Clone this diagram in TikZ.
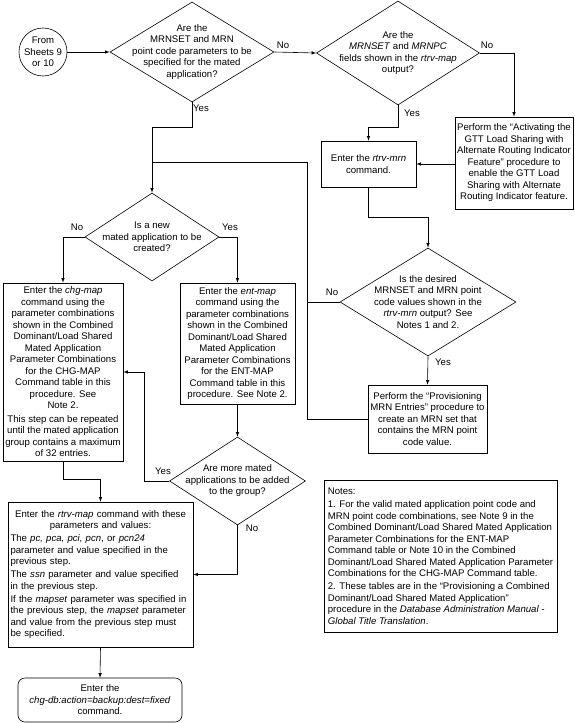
\documentclass[tikz,border=0pt]{standalone}
\usepackage{fontspec}
\setmainfont{Liberation Sans}
\usepackage{tikz}
\usetikzlibrary{shapes.geometric}
\usetikzlibrary{arrows}
\usetikzlibrary{positioning}
\usetikzlibrary{calc}
\newcommand{\flowfont}{\fontsize{9.6pt}{11.5pt}\selectfont}

\begin{document}
\begin{tikzpicture}[x=1pt,y=-1pt,
    every node/.style={font=\flowfont},
    proc/.style={draw,line width=0.6pt,align=center,inner sep=1pt},
    term/.style={proc,rounded corners=7pt},
    decision/.style={draw,diamond,line width=0.6pt,inner sep=0pt},
    dtext/.style={align=center,inner sep=0pt},
    lbl/.style={inner sep=0pt},
    flow/.style={line width=0.6pt},
    arr/.style={flow,-latex}]
    \useasboundingbox (0,0) rectangle (575,723);

    \node[draw,circle,line width=0.6pt,minimum size=46pt,inner sep=0pt,align=center] (start) at (43,52) {From\\Sheets 9\\or 10};

    \node[decision,minimum width=164pt,minimum height=100pt] (q1) at (192,52) {};
    \node[dtext] (q1t) at (q1) {Are the\\MRNSET and MRN\\point code parameters to be\\specified for the mated\\application?};

    \node[decision,minimum width=163pt,minimum height=104pt] (q2) at (398,53) {};
    \node[dtext] (q2t) at (q2) {Are the\\\textit{MRNSET} and \textit{MRNPC}\\fields shown in the \textit{rtrv-map}\\output?};

    \node[proc,minimum width=118pt,minimum height=92pt] (gtt) at (514,163) {Perform the “Activating the\\GTT Load Sharing with\\Alternate Routing Indicator\\Feature” procedure to\\enable the GTT Load\\Sharing with Alternate\\Routing Indicator feature.};

    \node[proc,minimum width=95pt,minimum height=46pt] (mrn) at (368.5,164) {Enter the \textit{rtrv-mrn}\\command.};

    \node[decision,minimum width=176pt,minimum height=108pt] (q3) at (428,302) {};
    \node[dtext] (q3t) at (q3) {Is the desired\\MRNSET and MRN point\\code values shown in the\\\textit{rtrv-mrn} output? See\\Notes 1 and 2.};

    \node[proc,minimum width=119pt,minimum height=68pt] (prov) at (427.5,419) {Perform the “Provisioning\\MRN Entries” procedure to\\create an MRN set that\\contains the MRN point\\code value.};

    \node[decision,minimum width=134pt,minimum height=88pt] (q4) at (152,237) {};
    \node[dtext] (q4t) at (q4) {Is a new\\mated application to be\\created?};

    \node[proc,minimum width=120pt,minimum height=178pt] (chg) at (63,372) {Enter the \textit{chg-map}\\command using the\\parameter combinations\\shown in the Combined\\Dominant/Load Shared\\Mated Application\\Parameter Combinations\\for the CHG-MAP\\Command table in this\\procedure. See\\Note 2.\\[2pt]This step can be repeated\\until the mated application\\group contains a maximum\\of 32 entries.};

    \node[proc,minimum width=115pt,minimum height=121pt] (ent) at (237.5,343.5) {Enter the \textit{ent-map}\\command using the\\parameter combinations\\shown in the Combined\\Dominant/Load Shared\\Mated Application\\Parameter Combinations\\for the ENT-MAP\\Command table in this\\procedure. See Note 2.};

    \node[decision,minimum width=136pt,minimum height=88pt] (q5) at (237.5,481) {};
    \node[dtext] (q5t) at (q5) {Are more mated\\applications to be added\\to the group?};

    \node[proc,align=left,text width=180pt,inner sep=2.5pt,minimum height=145pt] (map) at (100.5,574.5) {{\centering Enter the \textit{rtrv-map} command with these\\parameters and values:\par}\vspace{1.5pt}
      The \textit{pc, pca, pci, pcn}, or \textit{pcn24}\\parameter and value specified in the\\previous step.\par\vspace{1.5pt}
      The \textit{ssn} parameter and value specified\\in the previous step.\par\vspace{1.5pt}
      If the \textit{mapset} parameter was specified in\\the previous step, the \textit{mapset} parameter\\and value from the previous step must\\be specified.};

    \node[term,minimum width=164pt,minimum height=44pt] (db) at (100,700) {Enter the\\\textit{chg-db:action=backup:dest=fixed}\\command.};

    \node[proc,align=left,inner sep=3pt,minimum width=233pt,minimum height=152pt] (notes) at (440.5,556) {Notes:\\[1.5pt]1. For the valid mated application point code and\\MRN point code combinations, see Note 9 in the\\Combined Dominant/Load Shared Mated Application\\Parameter Combinations for the ENT-MAP\\Command table or Note 10 in the Combined\\Dominant/Load Shared Mated Application Parameter\\Combinations for the CHG-MAP Command table.\\[1.5pt]2. These tables are in the “Provisioning a Combined\\Dominant/Load Shared Mated Application”\\procedure in the \textit{Database Administration Manual -}\\\textit{Global Title Translation}.};

    \foreach \name/\where/\txt in {no1/{283,45}/No, yes1/{201,108}/Yes, no2/{487,45}/No, yes2/{412,113}/Yes,
        no3/{332,292}/No, yes3/{443,362}/Yes, no4/{77,227}/No, yes4/{230,227}/Yes,
        yes5/{163,471}/Yes, no5/{252,528}/No}{
      \node[lbl] (\name) at (\where) {\txt};
    }

    \coordinate (loop) at (307,162);
    \draw[arr] (start) -- (q1.west);
    \draw[arr] (q1.east) -- (q2.west);
    \draw[arr] (q2.east) -| (gtt.north);
    \draw[arr] (q2.south) -- ++(0,22) -| (mrn.north);
    \draw[arr] (gtt.west |- mrn) -- (mrn.east);
    \draw[arr] (mrn.south) -- ++(0,30) -| (q3.north);
    \draw[arr] (q3.south) -- (prov.north);
    \draw[flow] (prov.west) -| (loop) -- (loop -| q4.north);
    \draw[flow] (q3.west) -- (q3.west -| loop);
    \draw[arr] (q1.south) -- ++(0,25) -| (q4.north);
    \draw[arr] (q4.west) -| (chg.north);
    \draw[arr] (q4.east) -| (ent.north);
    \draw[arr] (ent.south) -- (q5.north);
    \draw[arr] (q5.west) -- ++(-25,0) |- (chg.east);
    \draw[arr] (q5.south) |- (map.east);
    \draw[arr] (chg.south) -- ++(0,18) -| (map.north);
    \draw[arr] (map.south) -- (db.north);
\end{tikzpicture}
\end{document}
